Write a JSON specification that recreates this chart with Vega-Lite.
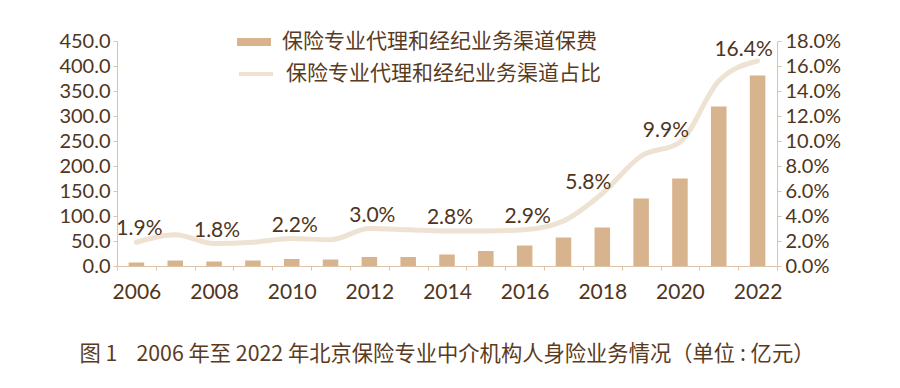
{
  "$schema": "https://vega.github.io/schema/vega-lite/v6.json",
  "autosize": {"type": "none"},
  "width": 660,
  "height": 225,
  "padding": {"left": 117, "top": 41, "right": 123, "bottom": 122},
  "background": "white",
  "title": {
    "text": "图 1\u00a0\u00a0\u00a0 2006 年至 2022 年北京保险专业中介机构人身险业务情况（单位 : 亿元）",
    "orient": "bottom",
    "anchor": "middle",
    "font": "Noto Sans CJK SC",
    "fontSize": 21.3,
    "fontWeight": "normal",
    "color": "#5a3b22",
    "offset": 42
  },
  "data": {
    "values": [
      {"year": 2006, "premium": 7, "share": 0.019},
      {"year": 2007, "premium": 11, "share": 0.025},
      {"year": 2008, "premium": 9, "share": 0.018},
      {"year": 2009, "premium": 11, "share": 0.019},
      {"year": 2010, "premium": 14, "share": 0.022},
      {"year": 2011, "premium": 13, "share": 0.021},
      {"year": 2012, "premium": 18, "share": 0.030},
      {"year": 2013, "premium": 18, "share": 0.029},
      {"year": 2014, "premium": 23, "share": 0.028},
      {"year": 2015, "premium": 30, "share": 0.028},
      {"year": 2016, "premium": 41, "share": 0.029},
      {"year": 2017, "premium": 57, "share": 0.036},
      {"year": 2018, "premium": 77, "share": 0.058},
      {"year": 2019, "premium": 135, "share": 0.088},
      {"year": 2020, "premium": 175, "share": 0.099},
      {"year": 2021, "premium": 319, "share": 0.148},
      {"year": 2022, "premium": 381, "share": 0.164}
    ]
  },
  "encoding": {
    "x": {
      "field": "year",
      "type": "ordinal",
      "scale": {"paddingInner": 0, "paddingOuter": 0},
      "axis": {
        "title": null,
        "labelAngle": 0,
        "tickBand": "extent",
        "labelExpr": "datum.value % 2 === 0 ? datum.label : ''",
        "labelPadding": 11,
        "labelBaseline": "top",
        "labelFontSize": 21
      }
    }
  },
  "layer": [
    {
      "mark": {"type": "bar", "width": {"band": 0.4}},
      "encoding": {
        "y": {
          "field": "premium",
          "type": "quantitative",
          "scale": {"domain": [0, 450]},
          "axis": {
            "title": null,
            "orient": "left",
            "values": [0, 50, 100, 150, 200, 250, 300, 350, 400, 450],
            "format": ".1f",
            "labelPadding": 3,
            "labelOverlap": false
          }
        },
        "fill": {
          "datum": "保险专业代理和经纪业务渠道保费",
          "type": "nominal",
          "scale": {"range": ["#d8b48e"]},
          "legend": {
            "title": null,
            "orient": "none",
            "legendX": 120,
            "legendY": -16,
            "padding": 0,
            "symbolType": "M-1,-0.23H1V0.23H-1Z",
            "symbolSize": 1156,
            "symbolStrokeWidth": 0,
            "labelOffset": 11,
            "labelLimit": 0,
            "labelFontSize": 21,
            "labelFont": "Noto Sans CJK SC",
            "labelColor": "#5a3b22"
          }
        }
      }
    },
    {
      "encoding": {
        "y": {
          "field": "share",
          "type": "quantitative",
          "scale": {"domain": [0, 0.18]},
          "axis": {
            "title": null,
            "orient": "right",
            "values": [0, 0.02, 0.04, 0.06, 0.08, 0.1, 0.12, 0.14, 0.16, 0.18],
            "format": ".1%",
            "labelPadding": 4,
            "labelOverlap": false
          }
        }
      },
      "layer": [
        {
          "mark": {"type": "line", "interpolate": "monotone", "strokeWidth": 5, "strokeCap": "round"},
          "encoding": {
            "stroke": {
              "datum": "保险专业代理和经纪业务渠道占比",
              "type": "nominal",
              "scale": {"range": ["#eee2d3"]},
              "legend": {
                "title": null,
                "orient": "none",
                "legendX": 120,
                "legendY": 14,
                "padding": 0,
                "symbolType": "stroke",
                "symbolSize": 1156,
                "symbolStrokeWidth": 4,
                "labelOffset": 11,
                "labelLimit": 0,
                "labelFontSize": 21,
                "labelFont": "Noto Sans CJK SC",
                "labelColor": "#5a3b22"
              }
            }
          }
        },
        {
          "transform": [{"filter": "datum.year % 2 === 0 && datum.year <= 2016"}],
          "mark": {"type": "text", "baseline": "bottom", "dy": -3, "dx": 3, "fontSize": 21, "font": "Lato", "color": "#4f3520"},
          "encoding": {
            "text": {"field": "share", "type": "quantitative", "format": ".1%"}
          }
        },
        {
          "transform": [{"filter": "datum.year >= 2018 && datum.year % 2 === 0"}],
          "mark": {"type": "text", "baseline": "bottom", "dy": -1, "dx": -14, "fontSize": 21, "font": "Lato", "color": "#4f3520"},
          "encoding": {
            "text": {"field": "share", "type": "quantitative", "format": ".1%"}
          }
        }
      ]
    }
  ],
  "resolve": {"scale": {"y": "independent", "fill": "independent", "stroke": "independent"}},
  "config": {
    "view": {"stroke": null},
    "font": "Noto Sans CJK SC",
    "axis": {
      "grid": false,
      "domainColor": "#dcc4aa",
      "tickColor": "#dcc4aa",
      "tickSize": 4,
      "labelColor": "#4f3520",
      "labelFont": "Lato",
      "labelFontSize": 20
    }
  }
}
